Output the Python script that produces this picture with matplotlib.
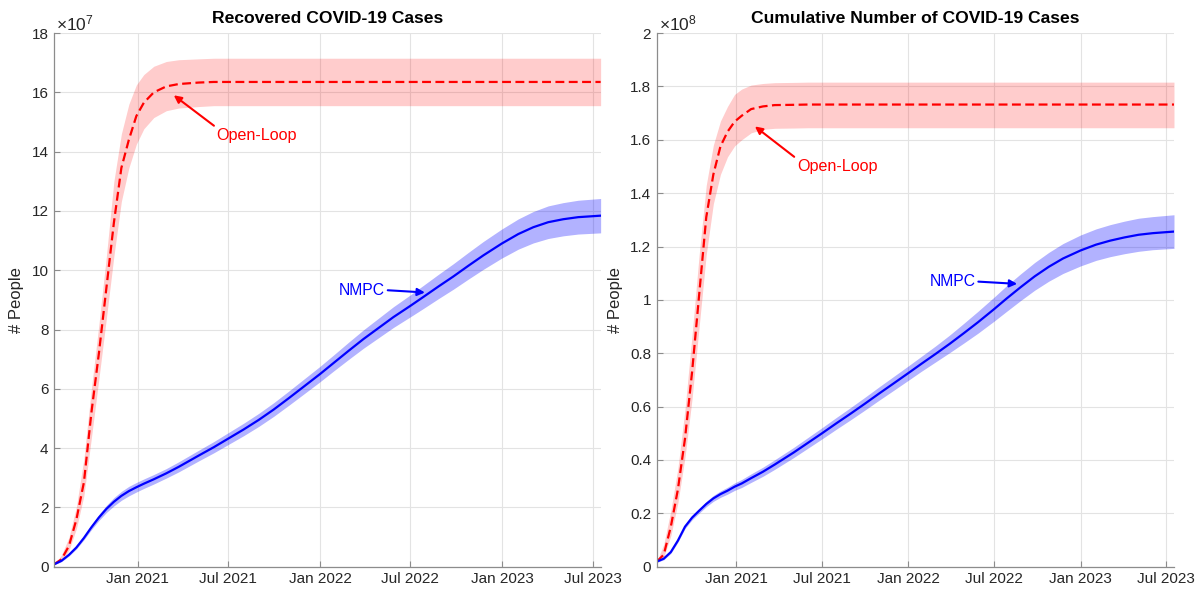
import numpy as np
import pandas as pd
import matplotlib
matplotlib.use('Agg')
import matplotlib.pyplot as plt
import matplotlib.dates as mdates
from matplotlib.ticker import MultipleLocator, FuncFormatter

plt.rcParams['font.family'] = ['Liberation Sans', 'DejaVu Sans']
plt.rcParams['mathtext.fontset'] = 'custom'
plt.rcParams['mathtext.rm'] = 'Liberation Sans'
plt.rcParams['mathtext.it'] = 'Liberation Sans:italic'

start = pd.Timestamp('2020-07-17')

# days since start for the controlled (NMPC) runs
days = [0, 15, 30, 45, 60, 75, 90, 105, 120, 135, 150, 165, 180, 200, 225, 250,
        290, 320, 350, 380, 410, 440, 470, 500, 533, 560, 590, 620, 650, 680,
        714, 740, 770, 800, 830, 860, 897, 930, 960, 990, 1020, 1050, 1095]
# days since start for the open-loop runs (flat after the peak)
days_ol = [0, 15, 30, 45, 60, 75, 90, 105, 120, 135, 150, 165, 180, 200, 225,
           250, 290, 320, 1095]

# recovered cases, x1e7
rec_nmpc = [0.08, 0.20, 0.40, 0.65, 0.97, 1.33, 1.66, 1.95, 2.19, 2.39, 2.55,
            2.68, 2.80, 2.95, 3.15, 3.37, 3.75, 4.03, 4.33, 4.63, 4.95, 5.30,
            5.68, 6.07, 6.50, 6.87, 7.28, 7.68, 8.05, 8.42, 8.80, 9.10, 9.45,
            9.79, 10.15, 10.50, 10.90, 11.22, 11.45, 11.62, 11.72, 11.79, 11.84]
rec_nmpc_spread = [0.02, 0.03, 0.04, 0.05, 0.06, 0.08, 0.10, 0.12, 0.14, 0.15,
                   0.16, 0.16, 0.16, 0.16, 0.16, 0.17, 0.18, 0.19, 0.20, 0.21,
                   0.22, 0.23, 0.24, 0.25, 0.26, 0.27, 0.29, 0.31, 0.33, 0.35,
                   0.37, 0.39, 0.41, 0.43, 0.45, 0.47, 0.49, 0.51, 0.53, 0.55,
                   0.56, 0.57, 0.58]
rec_ol = [0.08, 0.25, 0.70, 1.60, 2.85, 5.20, 7.20, 9.40, 11.60, 13.45, 14.40,
          15.20, 15.65, 16.00, 16.20, 16.28, 16.33, 16.35, 16.35]
rec_ol_hi = [0.08, 0.39, 0.99, 2.03, 3.65, 6.01, 8.17, 10.48, 13.00, 14.60,
             15.60, 16.25, 16.60, 16.88, 17.04, 17.10, 17.13, 17.15, 17.15]
rec_ol_lo = [0.08, 0.19, 0.55, 1.29, 2.40, 4.35, 6.34, 8.38, 10.47, 12.32,
             13.45, 14.25, 14.77, 15.15, 15.38, 15.47, 15.52, 15.55, 15.55]

# cumulative cases, x1e8
cum_nmpc = [0.019, 0.030, 0.055, 0.098, 0.150, 0.184, 0.210, 0.235, 0.256,
            0.272, 0.285, 0.300, 0.312, 0.332, 0.356, 0.383, 0.428, 0.464,
            0.500, 0.537, 0.573, 0.610, 0.648, 0.685, 0.726, 0.760, 0.797,
            0.835, 0.875, 0.916, 0.965, 1.004, 1.047, 1.088, 1.124, 1.155,
            1.185, 1.207, 1.222, 1.234, 1.244, 1.250, 1.256]
cum_nmpc_spread = [0.003, 0.004, 0.005, 0.006, 0.007, 0.008, 0.009, 0.010,
                   0.011, 0.012, 0.013, 0.014, 0.015, 0.016, 0.017, 0.018,
                   0.019, 0.020, 0.021, 0.022, 0.023, 0.024, 0.025, 0.026,
                   0.027, 0.028, 0.030, 0.033, 0.037, 0.041, 0.045, 0.048,
                   0.050, 0.052, 0.054, 0.056, 0.058, 0.059, 0.060, 0.061,
                   0.062, 0.062, 0.063]
cum_ol = [0.019, 0.045, 0.150, 0.290, 0.480, 0.730, 1.020, 1.310, 1.470, 1.575,
          1.630, 1.668, 1.690, 1.715, 1.725, 1.730, 1.731, 1.732, 1.732]
cum_ol_hi = [0.019, 0.084, 0.210, 0.370, 0.590, 0.870, 1.170, 1.430, 1.580,
             1.670, 1.725, 1.770, 1.790, 1.805, 1.811, 1.814, 1.815, 1.816,
             1.816]
cum_ol_lo = [0.019, 0.036, 0.116, 0.240, 0.410, 0.630, 0.900, 1.170, 1.360,
             1.470, 1.536, 1.577, 1.600, 1.626, 1.639, 1.643, 1.644, 1.645,
             1.645]


def when(d):
    return start + pd.Timedelta(days=d)


t = start + pd.to_timedelta(days, unit='D')
t_ol = start + pd.to_timedelta(days_ol, unit='D')

TXT = '#262626'


def draw(ax, mean, spread, ol, ol_lo, ol_hi, ymax, ystep, expo, title):
    mean = np.array(mean)
    spread = np.array(spread)
    ax.fill_between(t_ol, ol_lo, ol_hi, color='red', alpha=0.2, lw=0)
    ax.fill_between(t, mean - spread, mean + spread, color='blue', alpha=0.3, lw=0)
    ax.plot(t_ol, ol, color='red', lw=1.6, ls='--', dashes=(4, 2))
    ax.plot(t, mean, color='blue', lw=1.6)

    ax.set_xlim(when(0), when(1095))
    ax.set_ylim(0, ymax)
    ax.yaxis.set_major_locator(MultipleLocator(ystep))
    ax.yaxis.set_major_formatter(FuncFormatter(lambda v, p: f'{round(v, 6):g}'))
    ax.xaxis.set_major_locator(mdates.MonthLocator(bymonth=[1, 7]))
    ax.xaxis.set_major_formatter(mdates.DateFormatter('%b %Y'))

    for s in ['top', 'right']:
        ax.spines[s].set_visible(False)
    for s in ['left', 'bottom']:
        ax.spines[s].set_color('#8c8c8c')
        ax.spines[s].set_linewidth(0.9)
    ax.tick_params(direction='in', length=4, color='#8c8c8c', labelcolor=TXT,
                   labelsize=11, pad=4)
    ax.grid(True, color='#e3e3e3', lw=0.8)
    ax.set_axisbelow(True)

    ax.set_title(title, fontsize=12.6, fontweight='bold', color='black', pad=7)
    ax.set_ylabel('# People', fontsize=12, color=TXT, labelpad=5)
    ax.text(0.004, 1.0, r'$\mathregular{\times10^{%d}}$' % expo, transform=ax.transAxes,
            ha='left', va='bottom', fontsize=12.5, color=TXT)


fig = plt.figure(figsize=(12.02, 5.92), dpi=100)
ax1 = fig.add_axes([0.0449, 0.0427, 0.4548, 0.9015])
ax2 = fig.add_axes([0.5463, 0.0427, 0.4304, 0.9015])

draw(ax1, rec_nmpc, rec_nmpc_spread, rec_ol, rec_ol_lo, rec_ol_hi,
     18, 2, 7, 'Recovered COVID-19 Cases')
draw(ax2, cum_nmpc, cum_nmpc_spread, cum_ol, cum_ol_lo, cum_ol_hi,
     2, 0.2, 8, 'Cumulative Number of COVID-19 Cases')

arrow_red = dict(arrowstyle='-|>', color='red', lw=1.5, mutation_scale=11,
                 shrinkA=0, shrinkB=0)
arrow_blue = dict(arrowstyle='-|>', color='blue', lw=1.5, mutation_scale=11,
                  shrinkA=0, shrinkB=0)

ax1.annotate('Open-Loop', xy=(when(240), 15.9), xytext=(when(326), 14.55),
             ha='left', va='center', color='red', fontsize=11.6,
             arrowprops=dict(arrow_red, relpos=(0, 1)))
ax1.annotate('NMPC', xy=(when(743), 9.25), xytext=(when(663), 9.33),
             ha='right', va='center', color='blue', fontsize=11.3,
             arrowprops=dict(arrow_blue, relpos=(1, 0.5)))
ax2.annotate('Open-Loop', xy=(when(208), 1.65), xytext=(when(297), 1.5),
             ha='left', va='center', color='red', fontsize=11.6,
             arrowprops=dict(arrow_red, relpos=(0, 1)))
ax2.annotate('NMPC', xy=(when(763), 1.06), xytext=(when(675), 1.069),
             ha='right', va='center', color='blue', fontsize=11.3,
             arrowprops=dict(arrow_blue, relpos=(1, 0.5)))

fig.savefig('out.png', dpi=100)
